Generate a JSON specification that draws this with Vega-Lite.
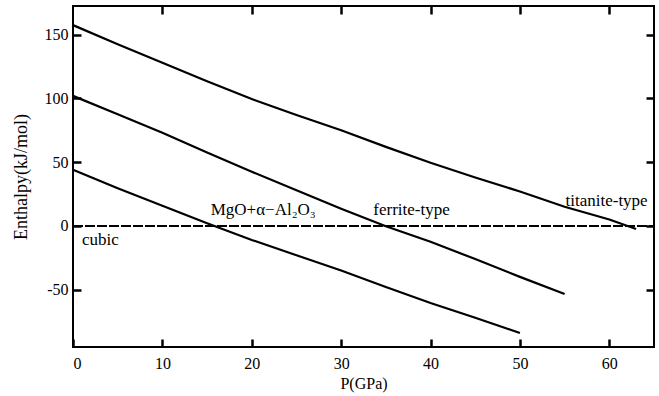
{
  "$schema": "https://vega.github.io/schema/vega-lite/v6.json",
  "width": 581,
  "height": 341,
  "autosize": "none",
  "padding": {"left": 73, "top": 6, "right": 5, "bottom": 49},
  "background": "white",
  "config": {
    "view": {"stroke": "black", "strokeWidth": 2},
    "font": "Liberation Serif"
  },
  "datasets": {
    "curves": [
      {"phase": "titanite", "P": 0, "H": 157.5},
      {"phase": "titanite", "P": 5, "H": 142.5},
      {"phase": "titanite", "P": 10, "H": 128},
      {"phase": "titanite", "P": 15, "H": 113.5},
      {"phase": "titanite", "P": 20, "H": 99.5},
      {"phase": "titanite", "P": 25, "H": 87},
      {"phase": "titanite", "P": 30, "H": 75},
      {"phase": "titanite", "P": 35, "H": 62},
      {"phase": "titanite", "P": 40, "H": 49.5},
      {"phase": "titanite", "P": 45, "H": 38},
      {"phase": "titanite", "P": 50, "H": 27},
      {"phase": "titanite", "P": 55, "H": 15},
      {"phase": "titanite", "P": 60, "H": 5},
      {"phase": "titanite", "P": 63, "H": -2.5},
      {"phase": "ferrite", "P": 0, "H": 102},
      {"phase": "ferrite", "P": 5, "H": 87.5},
      {"phase": "ferrite", "P": 10, "H": 73},
      {"phase": "ferrite", "P": 15, "H": 57.5},
      {"phase": "ferrite", "P": 20, "H": 42.5},
      {"phase": "ferrite", "P": 25, "H": 28},
      {"phase": "ferrite", "P": 30, "H": 13.5},
      {"phase": "ferrite", "P": 35, "H": -0.3},
      {"phase": "ferrite", "P": 40, "H": -12.5},
      {"phase": "ferrite", "P": 45, "H": -26},
      {"phase": "ferrite", "P": 50, "H": -40},
      {"phase": "ferrite", "P": 55, "H": -53.5},
      {"phase": "mgo", "P": 0, "H": 44},
      {"phase": "mgo", "P": 5, "H": 29.5},
      {"phase": "mgo", "P": 10, "H": 15.8},
      {"phase": "mgo", "P": 15, "H": 2},
      {"phase": "mgo", "P": 20, "H": -11},
      {"phase": "mgo", "P": 25, "H": -23},
      {"phase": "mgo", "P": 30, "H": -35},
      {"phase": "mgo", "P": 35, "H": -48},
      {"phase": "mgo", "P": 40, "H": -60.5},
      {"phase": "mgo", "P": 45, "H": -72},
      {"phase": "mgo", "P": 50, "H": -84}
    ],
    "zero": [
      {"P": 0, "H": 0},
      {"P": 65, "H": 0}
    ],
    "labels": [
      {"P": 1.0, "H": -11, "text": "cubic"},
      {"P": 15.4, "H": 12.5, "text": "MgO+α−Al₂O₃"},
      {"P": 33.6, "H": 12.5, "text": "ferrite-type"},
      {"P": 55.1, "H": 19.5, "text": "titanite-type"}
    ]
  },
  "layer": [
    {
      "data": {"name": "curves"},
      "mark": {"type": "line", "color": "black", "strokeWidth": 2.2},
      "encoding": {
        "x": {
          "field": "P", "type": "quantitative",
          "scale": {"domain": [0, 65], "nice": false, "zero": false},
          "axis": {"orient": "bottom", "values": [0, 10, 20, 30, 40, 50, 60], "title": "P(GPa)",
            "domain": false, "grid": false, "ticks": true, "tickColor": "black", "tickWidth": 2.5, "tickSize": 8, "offset": -8,
            "labelPadding": 8, "labelFont": "Liberation Serif", "labelFontSize": 16, "labelColor": "black",
            "titleFont": "Liberation Serif", "titleFontSize": 16, "titleFontWeight": "normal", "titleColor": "black", "titlePadding": 4}
        },
        "y": {
          "field": "H", "type": "quantitative",
          "scale": {"domain": [-95, 172.5], "nice": false, "zero": false},
          "axis": {"orient": "left", "values": [-50, 0, 50, 100, 150], "title": "Enthalpy(kJ/mol)",
            "domain": false, "grid": false, "ticks": true, "tickColor": "black", "tickWidth": 2.5, "tickSize": -8,
            "labelPadding": 13, "labelFont": "Liberation Serif", "labelFontSize": 16, "labelColor": "black",
            "titleFont": "Liberation Serif", "titleFontSize": 18, "titleFontWeight": "normal", "titleColor": "black", "titlePadding": 14,
            "labelExpr": "replace(datum.label, '−', '-')"}
        },
        "detail": {"field": "phase"}
      }
    },
    {
      "data": {"name": "zero"},
      "mark": {"type": "line", "color": "black", "strokeWidth": 2, "strokeDash": [10, 2]},
      "encoding": {
        "x": {"field": "P", "type": "quantitative", "axis": null},
        "y": {"field": "H", "type": "quantitative", "axis": null}
      }
    },
    {
      "data": {"name": "labels"},
      "mark": {"type": "text", "align": "left", "baseline": "middle", "font": "Liberation Serif", "fontSize": 17, "color": "black"},
      "encoding": {
        "x": {"field": "P", "type": "quantitative", "axis": null},
        "y": {"field": "H", "type": "quantitative", "axis": null},
        "text": {"field": "text"}
      }
    },
    {
      "data": {"name": "zero"},
      "mark": {"type": "point", "opacity": 0},
      "encoding": {
        "x": {"field": "P", "type": "quantitative", "axis": {"orient": "top", "values": [10, 20, 30, 40, 50, 60], "labels": false, "title": null, "domain": false, "grid": false, "ticks": true, "tickColor": "black", "tickWidth": 2.5, "tickSize": 8, "offset": -8}},
        "y": {"field": "H", "type": "quantitative", "axis": {"orient": "right", "values": [-50, 0, 50, 100, 150], "labels": false, "title": null, "domain": false, "grid": false, "ticks": true, "tickColor": "black", "tickWidth": 2.5, "tickSize": -8}}
      }
    }
  ],
  "resolve": {"axis": {"x": "independent", "y": "independent"}}
}
